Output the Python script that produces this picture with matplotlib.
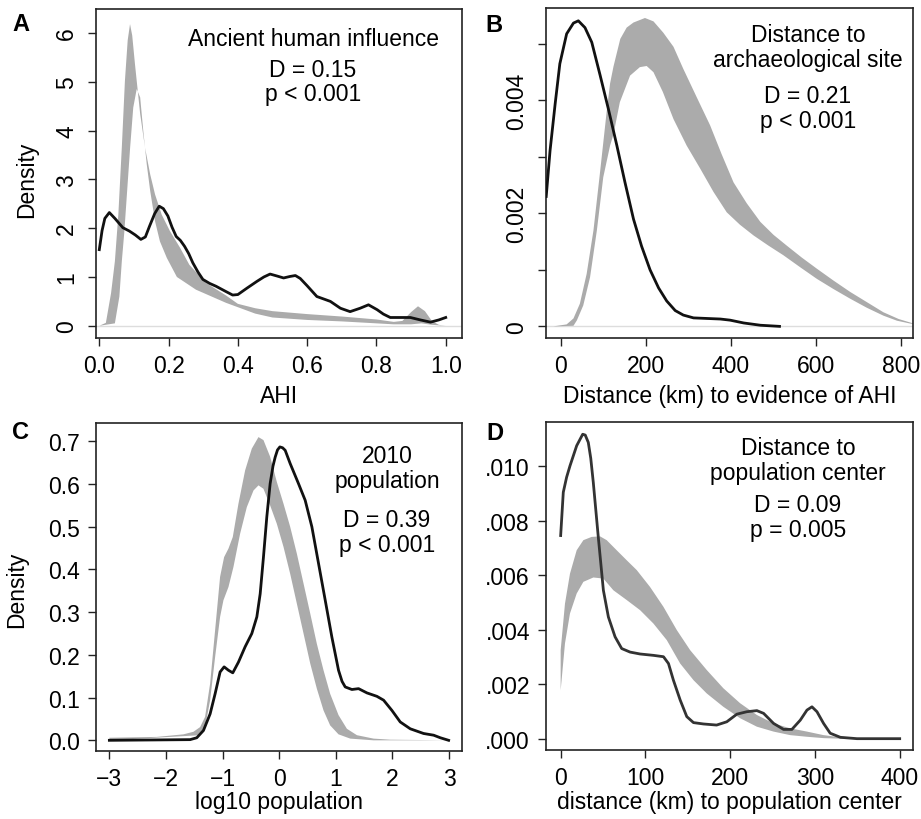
import numpy as np
import matplotlib
matplotlib.use("Agg")
import matplotlib.pyplot as plt

plt.rcParams['font.family'] = ['Liberation Sans', 'DejaVu Sans']

# ---- data ----
# A: ancient human influence (AHI)
a_line_x = [0.0, 0.008, 0.016, 0.029, 0.045, 0.068, 0.087, 0.104, 0.12, 0.133, 0.145, 0.16, 0.173, 0.185,
            0.198, 0.21, 0.222, 0.234, 0.246, 0.258, 0.27, 0.285, 0.299, 0.318, 0.337, 0.366, 0.385, 0.40,
            0.426, 0.455, 0.475, 0.493, 0.513, 0.532, 0.55, 0.566, 0.58, 0.6, 0.628, 0.667, 0.696, 0.724,
            0.753, 0.777, 0.802, 0.82, 0.84, 0.87, 0.898, 0.927, 0.956, 0.98, 1.0]
a_line_y = [1.56, 1.95, 2.2, 2.32, 2.2, 2.01, 1.94, 1.86, 1.77, 1.82, 2.04, 2.3, 2.45, 2.4,
            2.25, 2.02, 1.83, 1.75, 1.63, 1.48, 1.29, 1.1, 0.95, 0.87, 0.81, 0.7, 0.63, 0.64,
            0.77, 0.91, 1.0, 1.06, 1.02, 0.98, 1.01, 1.03, 0.97, 0.82, 0.6, 0.5, 0.36, 0.29,
            0.36, 0.43, 0.33, 0.24, 0.17, 0.17, 0.17, 0.12, 0.075, 0.12, 0.17]
a_hi_x = [0.0, 0.019, 0.034, 0.045, 0.055, 0.065, 0.074, 0.082, 0.0887, 0.095, 0.103, 0.118, 0.132,
          0.147, 0.161, 0.18, 0.204, 0.233, 0.26, 0.308, 0.366, 0.4, 0.45, 0.5, 0.6, 0.7, 0.8, 0.85,
          0.875, 0.9, 0.92, 0.94, 0.96, 0.98, 1.0]
a_hi_y = [0.0, 0.06, 0.67, 1.32, 2.28, 3.65, 5.02, 5.85, 6.18, 5.95, 5.36, 4.34, 3.65,
          3.10, 2.69, 2.28, 1.94, 1.60, 1.25, 0.88, 0.62, 0.45, 0.36, 0.3, 0.24, 0.19, 0.13, 0.08,
          0.1, 0.28, 0.4, 0.3, 0.1, 0.02, 0.0]
a_lo_x = [0.0, 0.045, 0.058, 0.065, 0.072, 0.079, 0.089, 0.098, 0.108, 0.118, 0.127, 0.137, 0.147,
          0.161, 0.175, 0.195, 0.224, 0.241, 0.279, 0.366, 0.45, 0.5, 0.6, 0.7, 0.8, 0.85, 0.9, 0.93,
          0.96, 1.0]
a_lo_y = [0.0, 0.05, 0.6, 1.32, 1.9, 2.62, 3.65, 4.47, 4.85, 4.68, 3.99, 3.31, 2.76,
          2.14, 1.73, 1.39, 1.0, 0.92, 0.74, 0.47, 0.25, 0.17, 0.12, 0.09, 0.05, 0.03, 0.03, 0.05,
          0.02, 0.0]

# B: distance to archaeological site (density values x 1e-3)
b_line_x = [-34, -25, -13, -2, 14, 30, 41.5, 57, 73, 92.5, 112, 132, 151, 171, 190, 210, 230, 249,
            269, 288, 312, 343, 375, 398, 430, 469, 514]
b_line_y = [2.30, 3.11, 3.94, 4.65, 5.18, 5.37, 5.41, 5.29, 5.03, 4.45, 3.85, 3.2, 2.55, 1.9, 1.42,
            1.0, 0.68, 0.45, 0.28, 0.2, 0.15, 0.14, 0.13, 0.11, 0.06, 0.02, 0.0]
b_hi_x = [-17, 14, 30, 45, 61, 77, 92, 108, 116, 124, 140, 155, 171, 198, 218, 241, 265, 288, 320,
          351, 378, 406, 437, 469, 500, 531, 566, 602, 641, 680, 719, 758, 794, 829, 840]
b_hi_y = [0, 0.035, 0.14, 0.40, 0.93, 1.70, 2.7, 3.8, 4.3, 4.6, 5.09, 5.29, 5.38, 5.46, 5.40, 5.2,
          4.95, 4.56, 4.05, 3.56, 3.05, 2.55, 2.18, 1.85, 1.62, 1.43, 1.22, 1.02, 0.81, 0.61, 0.43,
          0.25, 0.13, 0.05, 0.03]
b_lo_x = [-17, 30, 38, 53, 69, 85, 100, 116, 124, 139, 163, 186, 202, 218, 240, 265, 296, 328, 359,
          390, 421, 453, 488, 523, 562, 602, 641, 680, 719, 758, 790, 821, 840]
b_lo_y = [0, 0.01, 0.106, 0.37, 0.87, 1.70, 2.64, 3.2, 3.4, 3.97, 4.44, 4.59, 4.61, 4.5, 4.15, 3.67,
          3.2, 2.79, 2.38, 2.02, 1.8, 1.61, 1.43, 1.26, 1.05, 0.84, 0.66, 0.49, 0.33, 0.19, 0.1,
          0.05, 0.03]

# C: 2010 population (log10)
c_line_x = [-3, -1.574, -1.456, -1.338, -1.22, -1.132, -1.044, -0.973, -0.896, -0.82, -0.72, -0.602,
            -0.484, -0.395, -0.336, -0.278, -0.219, -0.16, -0.11, -0.071, -0.03, 0.012, 0.06, 0.106,
            0.194, 0.341, 0.459, 0.577, 0.695, 0.813, 0.93, 1.048, 1.11, 1.166, 1.284, 1.402, 1.55,
            1.726, 1.844, 1.991, 2.138, 2.315, 2.55, 2.728, 2.846, 2.993]
c_line_y = [0, 0.0016, 0.006, 0.023, 0.062, 0.109, 0.16, 0.172, 0.164, 0.158, 0.183, 0.219,
            0.25, 0.289, 0.343, 0.429, 0.523, 0.601, 0.642, 0.663, 0.68, 0.687, 0.685, 0.679,
            0.648, 0.601, 0.562, 0.5, 0.414, 0.328, 0.242, 0.164, 0.138, 0.125, 0.119, 0.121, 0.111,
            0.103, 0.094, 0.07, 0.043, 0.027, 0.016, 0.012, 0.006, 0.0]
c_hi_x = [-3, -2.163, -1.692, -1.515, -1.397, -1.309, -1.22, -1.132, -1.044, -0.973, -0.896, -0.82,
          -0.72, -0.602, -0.484, -0.366, -0.278, -0.16, -0.042, 0.076, 0.194, 0.312, 0.43, 0.548,
          0.665, 0.783, 0.9, 1.048, 1.196, 1.373, 1.667, 1.962, 3.0]
c_hi_y = [0.006, 0.008, 0.014, 0.02, 0.031, 0.055, 0.133, 0.258, 0.383, 0.429, 0.449, 0.476,
          0.554, 0.632, 0.683, 0.71, 0.703, 0.664, 0.605, 0.554, 0.5, 0.437, 0.367, 0.297,
          0.226, 0.164, 0.109, 0.059, 0.027, 0.012, 0.004, 0.0015, 0.0]
c_lo_x = [-3, -1.397, -1.309, -1.22, -1.132, -1.044, -0.985, -0.896, -0.808, -0.69, -0.572, -0.454,
          -0.366, -0.278, -0.16, -0.042, 0.076, 0.194, 0.312, 0.43, 0.548, 0.665, 0.783, 0.9, 1.048,
          1.255, 1.667, 3.0]
c_lo_y = [0, 0.012, 0.031, 0.094, 0.195, 0.289, 0.328, 0.359, 0.406, 0.484, 0.546, 0.585,
          0.597, 0.589, 0.55, 0.507, 0.453, 0.39, 0.32, 0.25, 0.18, 0.121, 0.07, 0.035, 0.014,
          0.004, 0.0, 0.0]

# D: distance to population center (density values x 1e-3)
d_line_x = [0, 3.1, 7, 11, 18.9, 26, 29, 32.6, 35.5, 38.5, 44.4, 50.4, 56.3, 64.2, 72, 81.9, 93.7,
            109.4, 121.3, 127.2, 133, 141, 148.8, 156.7, 168.5, 184, 196, 207.9, 219.7, 231.5, 239.4,
            251.2, 263, 272.8, 282.7, 290.6, 296.5, 302.4, 310.2, 318, 330, 349.6, 400]
d_line_y = [7.46, 9.05, 9.6, 10.02, 10.76, 11.18, 11.15, 10.88, 10.3, 9.41, 7.4, 5.45, 4.47, 3.74,
            3.31, 3.18, 3.11, 3.06, 3.01, 2.76, 2.15, 1.42, 0.81, 0.59, 0.54, 0.50, 0.62, 0.90, 0.99,
            1.03, 0.93, 0.56, 0.34, 0.34, 0.68, 1.05, 1.17, 0.99, 0.56, 0.20, 0.05, 0.0, 0.0]
d_hi_x = [0, 5.1, 11, 18.9, 26.8, 36.6, 46.5, 54.3, 66.1, 78, 89.8, 105.5, 121.3, 137, 152.8, 172.4,
          192, 211.8, 231.5, 251.2, 270.8, 290.6, 310.2, 330, 350, 400]
d_hi_y = [3.25, 4.96, 6.06, 6.92, 7.29, 7.41, 7.43, 7.29, 6.92, 6.55, 6.19, 5.57, 4.84, 3.99, 3.25,
          2.52, 1.85, 1.30, 0.87, 0.56, 0.38, 0.26, 0.13, 0.05, 0.0, 0.0]
d_lo_x = [0, 5.1, 11, 18.9, 26.8, 38.6, 50.4, 62.2, 78, 93.7, 109.4, 125.2, 141, 156.7, 172.4, 192,
          211.8, 231.5, 251.2, 270.8, 290.6, 310.2, 330, 400]
d_lo_y = [1.78, 3.50, 4.6, 5.33, 5.76, 5.92, 5.88, 5.45, 5.09, 4.72, 4.23, 3.62, 2.76, 2.15, 1.66,
          1.17, 0.75, 0.44, 0.26, 0.13, 0.07, 0.02, 0.0, 0.0]

W, H = 921, 820
BAND = '#ababab'
FS = 16.5

fig = plt.figure(figsize=(W / 100, H / 100), dpi=100)


def add_ax(l, t, r, b):
    return fig.add_axes([l / W, 1 - b / H, (r - l) / W, (b - t) / H])


def txt(x, y, s, **kw):
    kw.setdefault('fontsize', FS)
    kw.setdefault('ha', 'center')
    kw.setdefault('va', 'baseline')
    fig.text(x / W, 1 - y / H, s, **kw)


def band(ax, hx, hy, lx, ly, scale=1.0):
    xs = np.concatenate([hx, lx[::-1]])
    ys = np.concatenate([np.array(hy) * scale, (np.array(ly) * scale)[::-1]])
    ax.fill(xs, ys, color=BAND, lw=0, zorder=2)


def style(ax, ypad):
    for sp in ax.spines.values():
        sp.set_linewidth(1.2)
        sp.set_color('#222222')
    ax.tick_params(direction='out', length=5.8, width=1, color='#222222',
                   labelsize=FS, pad=5.8)
    ax.tick_params(axis='y', pad=ypad)


axA = add_ax(96, 10, 462, 339)
axB = add_ax(546, 9, 913, 339)
axC = add_ax(96, 424, 462, 752)
axD = add_ax(546, 423, 913, 751)

# A
axA.axhline(0, color='#dddddd', lw=1, zorder=1)
band(axA, a_hi_x, a_hi_y, a_lo_x, a_lo_y)
axA.plot(a_line_x, a_line_y, color='#111111', lw=2, zorder=3)
axA.set_xlim(-0.0095, 1.047)
axA.set_ylim(-0.25, 6.49)
axA.set_xticks([0, 0.2, 0.4, 0.6, 0.8, 1.0], ['0.0', '0.2', '0.4', '0.6', '0.8', '1.0'])
axA.set_yticks(range(7), [str(i) for i in range(7)])
style(axA, 7)

# B
axB.axhline(0, color='#dddddd', lw=1, zorder=1)
band(axB, b_hi_x, b_hi_y, b_lo_x, b_lo_y, 1e-3)
axB.plot(b_line_x, np.array(b_line_y) * 1e-3, color='#111111', lw=2, zorder=3)
axB.set_xlim(-34.5, 827.6)
axB.set_ylim(-0.000206, 0.005637)
axB.set_xticks([0, 200, 400, 600, 800], ['0', '200', '400', '600', '800'])
axB.set_yticks([0, 0.001, 0.002, 0.003, 0.004, 0.005], ['0', '', '0.002', '', '0.004', ''])
style(axB, 7)

for ax in (axA, axB):
    for lab in ax.get_yticklabels():
        lab.set_rotation(90)
        lab.set_va('center')
        lab.set_ha('right')

# C
band(axC, c_hi_x, c_hi_y, c_lo_x, c_lo_y)
axC.plot(c_line_x, c_line_y, color='#111111', lw=2, zorder=3)
axC.set_xlim(-3.236, 3.229)
axC.set_ylim(-0.025, 0.743)
axC.set_xticks(range(-3, 4), ['\u22123', '\u22122', '\u22121', '0', '1', '2', '3'])
axC.set_yticks([0, 0.1, 0.2, 0.3, 0.4, 0.5, 0.6, 0.7],
               ['0.0', '0.1', '0.2', '0.3', '0.4', '0.5', '0.6', '0.7'])
style(axC, 5.8)

# D
band(axD, d_hi_x, d_hi_y, d_lo_x, d_lo_y, 1e-3)
axD.plot(d_line_x, np.array(d_line_y) * 1e-3, color='#333333', lw=2, zorder=3)
axD.set_xlim(-17.3, 415.7)
axD.set_ylim(-0.000416, 0.01163)
axD.set_xticks([0, 100, 200, 300, 400], ['0', '100', '200', '300', '400'])
axD.set_yticks([0, 0.002, 0.004, 0.006, 0.008, 0.010],
               ['.000', '.002', '.004', '.006', '.008', '.010'])
style(axD, 5.8)

# in-panel annotations
txt(313, 45.7, 'Ancient human influence')
txt(313, 76.7, 'D = 0.15')
txt(313, 101, 'p < 0.001')

txt(808, 42.3, 'Distance to')
txt(808, 66.7, 'archaeological site')
txt(808, 102.7, 'D = 0.21')
txt(808, 128.3, 'p < 0.001')

txt(387, 463.3, '2010')
txt(387, 488.3, 'population')
txt(387, 526.7, 'D = 0.39')
txt(387, 551.7, 'p < 0.001')

txt(798, 455, 'Distance to')
txt(798, 480, 'population center')
txt(798, 511.7, 'D = 0.09')
txt(798, 537.3, 'p = 0.005')

# axis titles
txt(279, 403, 'AHI')
txt(729.5, 403, 'Distance (km) to evidence of AHI')
txt(279, 809, 'log10 population')
txt(729.5, 809, 'distance (km) to population center')
txt(27, 180, 'Density', rotation=90, va='center')
txt(17, 590, 'Density', rotation=90, va='center')

# panel letters
for x, y, s in [(12, 31, 'A'), (485, 32, 'B'), (12, 439, 'C'), (486, 440, 'D')]:
    txt(x, y, s, ha='left', fontsize=17, fontweight='bold',
        family=['Liberation Sans Narrow', 'Liberation Sans'])

fig.savefig('out.png', dpi=100)
